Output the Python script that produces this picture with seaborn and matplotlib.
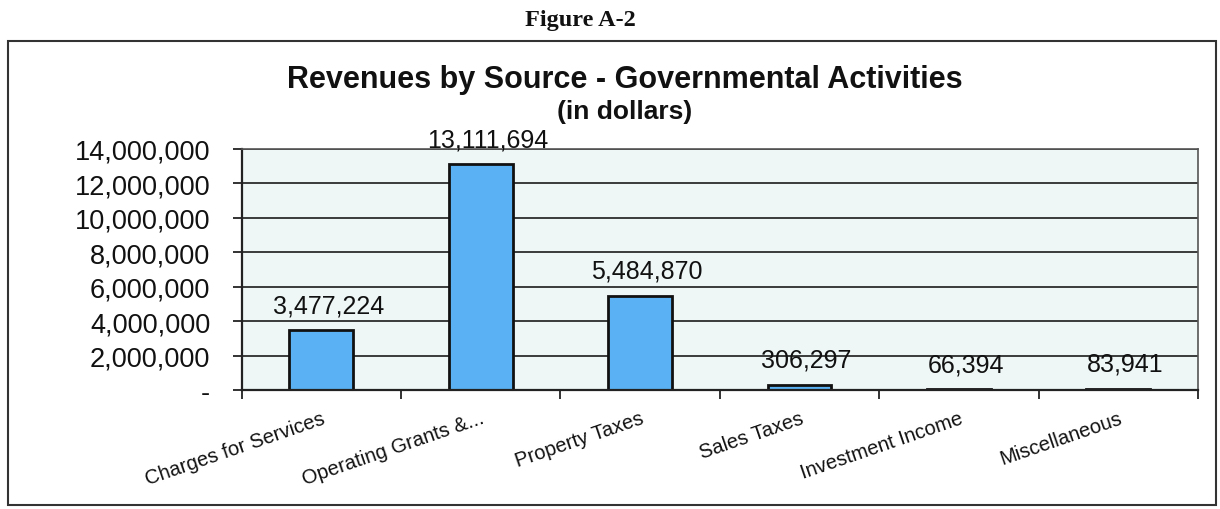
import pandas as pd
import matplotlib.pyplot as plt
import seaborn as sns
from matplotlib.patches import Rectangle
from matplotlib.ticker import FuncFormatter

sns.set_theme(style="white")
plt.rcParams["font.family"] = ["Liberation Sans", "DejaVu Sans"]

sources = [
    "Charges for Services",
    "Operating Grants &...",
    "Property Taxes",
    "Sales Taxes",
    "Investment Income",
    "Miscellaneous",
]
revenues = [3477224, 13111694, 5484870, 306297, 66394, 83941]
yticks = [0, 2000000, 4000000, 6000000, 8000000, 10000000, 12000000, 14000000]

df = pd.DataFrame({"source": sources, "revenue": revenues})

fig = plt.figure(figsize=(12.2, 5.1), dpi=100)
ax = fig.add_axes([0.198, 0.233, 0.784, 0.473])
ax.set_facecolor("#eef7f6")

sns.barplot(data=df, x="source", y="revenue", color="#5ab2f4",
            width=0.4, edgecolor="#111111", linewidth=2,
            saturation=1, ax=ax)

# value labels above the bars
for i, v in enumerate(revenues):
    ax.annotate(f"{v:,}", (i, v), xytext=(5, 18), textcoords="offset points",
                ha="center", va="center", fontsize=18, color="#111111",
                annotation_clip=False)

ax.set_ylim(0, 14000000)
ax.set_xlim(-0.5, len(sources) - 0.5)
ax.set_yticks(yticks)
ax.yaxis.set_major_formatter(FuncFormatter(lambda v, p: "-" if v == 0 else f"{v:,.0f}"))
ax.tick_params(axis="y", direction="out", length=6.5, width=1.3, color="#222222",
               labelsize=19.5, labelcolor="#111111", left=True, pad=16)
ax.yaxis.grid(True, color="#3a3a3a", linewidth=1.4)
ax.set_axisbelow(True)

# category labels, with tick marks between categories like the original
ax.set_xticks(range(len(sources)))
ax.set_xticklabels(sources, rotation=19, ha="right", rotation_mode="anchor",
                   fontsize=14.5, color="#111111")
ax.tick_params(axis="x", which="major", length=0, pad=13)
ax.set_xticks([i - 0.5 for i in range(len(sources) + 1)], minor=True)
ax.tick_params(axis="x", which="minor", direction="out", length=6.5, width=1.3,
               color="#222222", bottom=True)
ax.set_xlabel("")
ax.set_ylabel("")

for side in ["left", "bottom"]:
    ax.spines[side].set_color("#222222")
    ax.spines[side].set_linewidth(1.6)
for side in ["top", "right"]:
    ax.spines[side].set_color("#555555")
    ax.spines[side].set_linewidth(1.2)

# outer frame and titles
fig.patches.append(Rectangle((8 / 1220, 4 / 510), 1208 / 1220, 464 / 510,
                             transform=fig.transFigure, fill=False,
                             edgecolor="#333333", linewidth=1.5))
fig.text(0.476, 0.959, "Figure A-2", ha="center", va="center", fontsize=17.5,
         fontweight="bold", color="#111111",
         family=["Liberation Serif", "DejaVu Serif"])
fig.text(0.512, 0.843, "Revenues by Source - Governmental Activities",
         ha="center", va="center", fontsize=22, fontweight="bold",
         color="#111111")
fig.text(0.512, 0.78, "(in dollars)", ha="center", va="center",
         fontsize=19, fontweight="bold", color="#111111")

fig.savefig("out.png", dpi=100)
